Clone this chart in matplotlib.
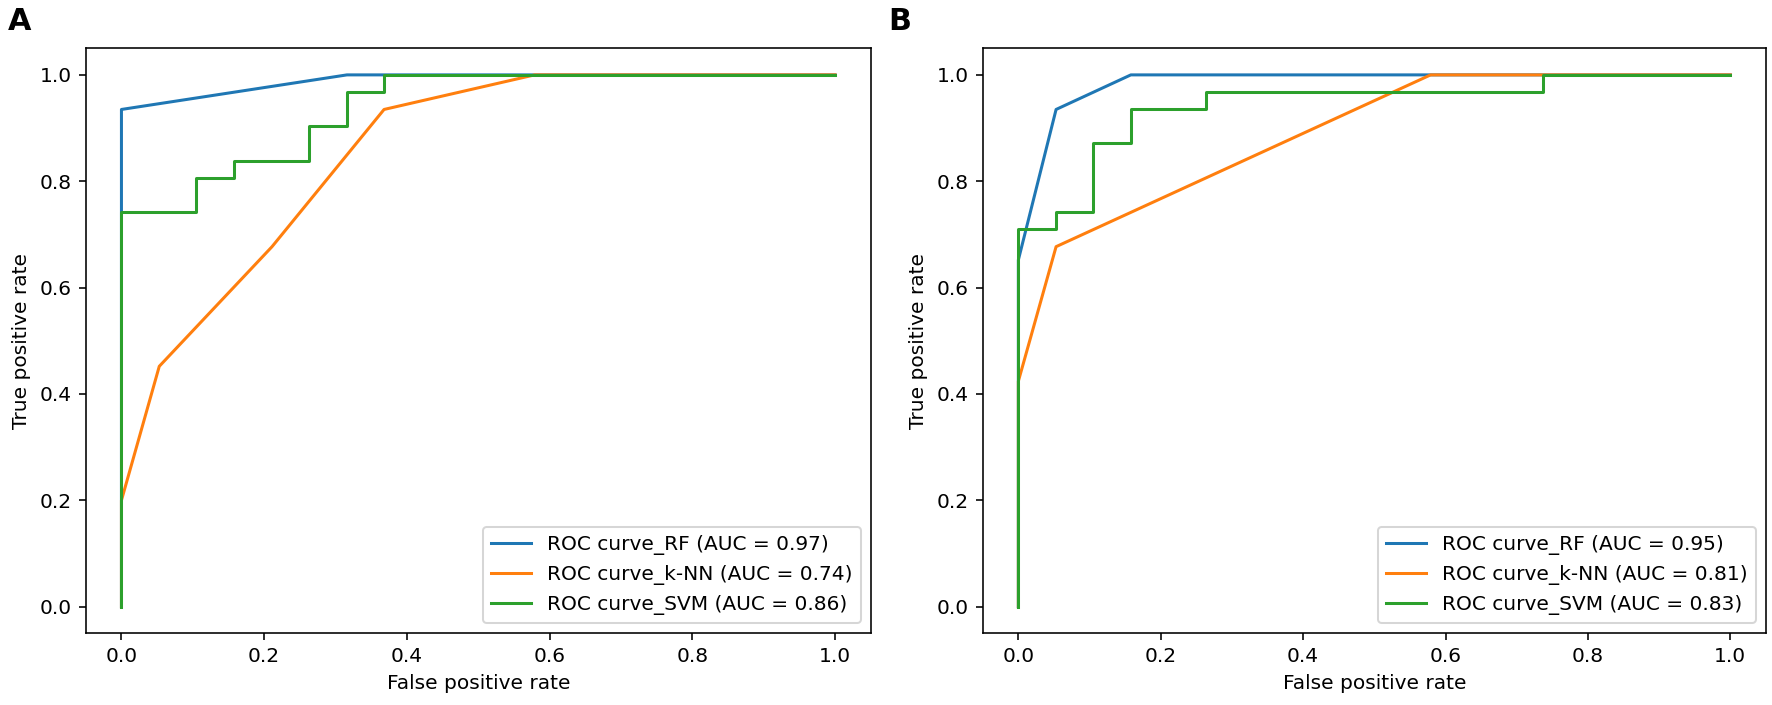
import numpy as np
from matplotlib import pyplot as plt

# panel A  (fpr / tpr)
fpr_rf_a = [0.0, 0.0, 0.316, 1.0]
tpr_rf_a = [0.0, 0.935, 1.0, 1.0]
fpr_knn_a = [0.0, 0.0, 0.053, 0.211, 0.368, 0.579, 1.0]
tpr_knn_a = [0.0, 0.2, 0.452, 0.677, 0.935, 1.0, 1.0]
fpr_svm_a = [0.0, 0.0, 0.105, 0.105, 0.158, 0.158, 0.263, 0.263, 0.316, 0.316, 0.368, 0.368, 1.0]
tpr_svm_a = [0.0, 0.742, 0.742, 0.806, 0.806, 0.839, 0.839, 0.903, 0.903, 0.968, 0.968, 1.0, 1.0]
auc_a = [0.97, 0.74, 0.86]

# panel B
fpr_rf_b = [0.0, 0.0, 0.053, 0.158, 1.0]
tpr_rf_b = [0.0, 0.652, 0.935, 1.0, 1.0]
fpr_knn_b = [0.0, 0.0, 0.053, 0.579, 1.0]
tpr_knn_b = [0.0, 0.424, 0.677, 1.0, 1.0]
fpr_svm_b = [0.0, 0.0, 0.053, 0.053, 0.105, 0.105, 0.158, 0.158, 0.263, 0.263, 0.737, 0.737, 1.0]
tpr_svm_b = [0.0, 0.71, 0.71, 0.742, 0.742, 0.871, 0.871, 0.935, 0.935, 0.968, 0.968, 1.0, 1.0]
auc_b = [0.95, 0.81, 0.83]

models = ['RF', 'k-NN', 'SVM']

fig = plt.figure(figsize=(1772 / 145, 705 / 145), dpi=145)
ax_a = fig.add_axes([0.0484, 0.1017, 0.4430, 0.8298])
ax_b = fig.add_axes([0.5546, 0.1017, 0.4420, 0.8298])

panels = [
    (ax_a, [(fpr_rf_a, tpr_rf_a), (fpr_knn_a, tpr_knn_a), (fpr_svm_a, tpr_svm_a)], auc_a),
    (ax_b, [(fpr_rf_b, tpr_rf_b), (fpr_knn_b, tpr_knn_b), (fpr_svm_b, tpr_svm_b)], auc_b),
]

for ax, curves, aucs in panels:
    for (fpr, tpr), name, auc in zip(curves, models, aucs):
        ax.plot(fpr, tpr, label='ROC curve_%s (AUC = %.2f)' % (name, auc))
    ax.set_xlabel('False positive rate')
    ax.set_ylabel('True positive rate')
    ax.legend(loc='lower right')

fig.text(0.0045, 0.99, 'A', fontsize=15, fontweight='bold', va='top', ha='left')
fig.text(0.501, 0.99, 'B', fontsize=15, fontweight='bold', va='top', ha='left')

fig.savefig('out.png', dpi=145)
